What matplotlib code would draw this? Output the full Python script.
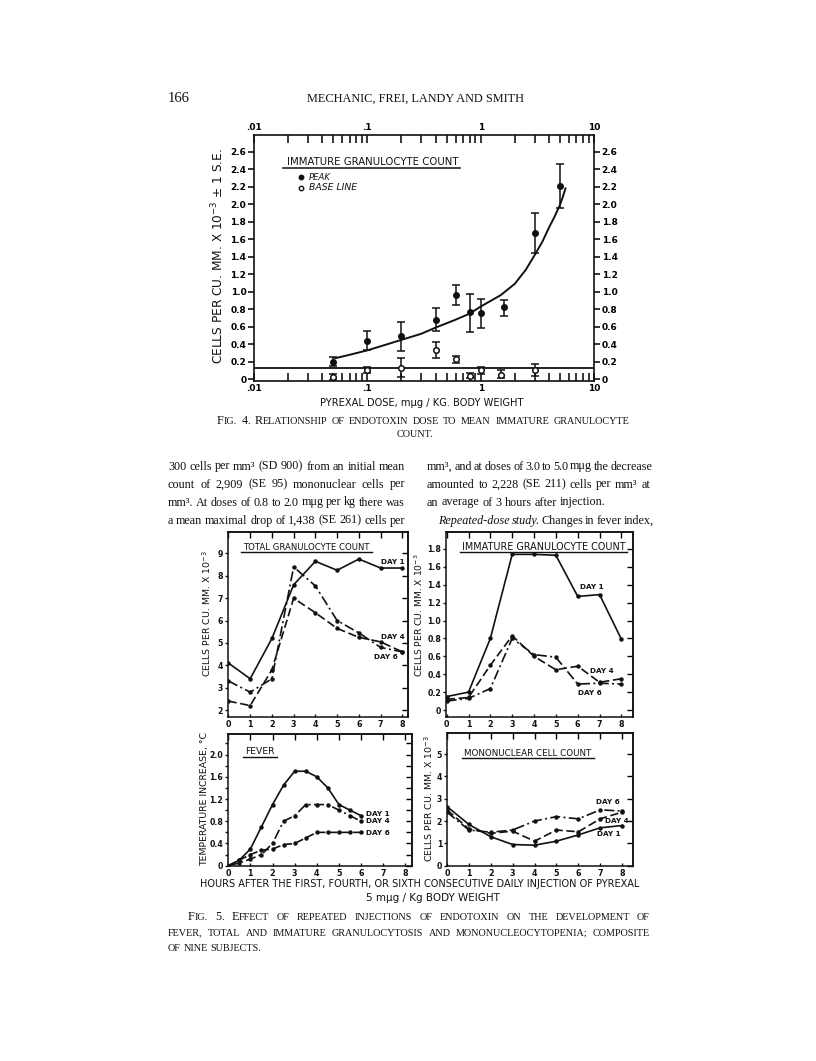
import matplotlib
matplotlib.use("Agg")
import matplotlib.pyplot as plt
from matplotlib.lines import Line2D
from matplotlib.ticker import FixedLocator, NullFormatter

# ---------------- data: Fig. 4 ----------------
peak_dose = [0.05, 0.1, 0.2, 0.4, 0.6, 0.8, 1.0, 1.6, 3.0, 5.0]
peak_mean = [0.20, 0.44, 0.49, 0.68, 0.96, 0.77, 0.76, 0.82, 1.67, 2.21]
peak_low = [0.15, 0.33, 0.32, 0.55, 0.85, 0.54, 0.59, 0.72, 1.44, 1.96]
peak_high = [0.25, 0.55, 0.65, 0.81, 1.08, 0.97, 0.92, 0.91, 1.90, 2.46]

base_dose = [0.05, 0.1, 0.2, 0.4, 0.6, 0.8, 1.0, 1.5, 3.0]
base_mean = [0.02, 0.11, 0.13, 0.33, 0.23, 0.04, 0.11, 0.05, 0.11]
base_low = [-0.01, 0.07, 0.03, 0.24, 0.19, 0.01, 0.06, 0.01, 0.04]
base_high = [0.06, 0.14, 0.24, 0.43, 0.27, 0.07, 0.14, 0.10, 0.17]
baseline_level = 0.13

curve_dose = [0.052, 0.07, 0.1, 0.15, 0.2, 0.3, 0.4, 0.6, 0.8, 1.0, 1.5, 2.0, 2.5, 3.0,
              3.5, 4.0, 4.5, 5.0, 5.3, 5.6]
curve_val = [0.24, 0.28, 0.33, 0.40, 0.45, 0.52, 0.59, 0.68, 0.75, 0.83, 0.96, 1.09, 1.25, 1.42,
             1.57, 1.73, 1.86, 1.99, 2.08, 2.18]

# ---------------- data: Fig. 5 ----------------
hours = [0, 1, 2, 3, 4, 5, 6, 7, 8]
total_day1 = [4.1, 3.4, 5.2, 7.6, 8.65, 8.25, 8.75, 8.35, 8.35]
total_day4 = [2.4, 2.2, 3.8, 7.0, 6.35, 5.65, 5.25, 5.05, 4.6]
total_day6 = [3.3, 2.8, 3.4, 8.4, 7.55, 6.0, 5.45, 4.8, 4.6]

imm_day1 = [0.15, 0.20, 0.80, 1.74, 1.74, 1.73, 1.27, 1.29, 0.79]
imm_day4 = [0.12, 0.14, 0.50, 0.83, 0.60, 0.45, 0.49, 0.31, 0.35]
imm_day6 = [0.10, 0.13, 0.24, 0.80, 0.62, 0.59, 0.29, 0.30, 0.29]

fever_hours = [0, 0.5, 1, 1.5, 2, 2.5, 3, 3.5, 4, 4.5, 5, 5.5, 6]
fever_day1 = [0, 0.10, 0.30, 0.70, 1.10, 1.45, 1.70, 1.70, 1.60, 1.40, 1.10, 1.00, 0.90]
fever_day4 = [0, 0.05, 0.12, 0.20, 0.40, 0.80, 0.90, 1.10, 1.10, 1.10, 1.00, 0.90, 0.80]
fever_day6 = [0, 0.10, 0.20, 0.28, 0.30, 0.38, 0.40, 0.50, 0.60, 0.60, 0.60, 0.60, 0.60]

mono_day1 = [2.65, 1.85, 1.30, 0.95, 0.92, 1.10, 1.38, 1.70, 1.80]
mono_day4 = [2.50, 1.65, 1.45, 1.55, 1.10, 1.60, 1.52, 2.10, 2.40]
mono_day6 = [2.40, 1.60, 1.50, 1.60, 2.00, 2.20, 2.10, 2.50, 2.45]

# ---------------- page setup ----------------
W, H = 816, 1061
fig = plt.figure(figsize=(W / 100, H / 100), dpi=100)
fig.patch.set_facecolor("white")
renderer = fig.canvas.get_renderer()
SANS = "DejaVu Sans"
SERIF = "Liberation Serif"
INK = "#111111"


def rect(l, t, r, b):
    return [l / W, 1 - b / H, (r - l) / W, (b - t) / H]


def fx(x):
    return x / W


def fy(y):
    return 1 - y / H


def width_of(s, size, family, style="normal", weight="normal"):
    t = fig.text(0, 0, s, fontsize=size, family=family, style=style, weight=weight)
    w = t.get_window_extent(renderer).width
    t.remove()
    return w


def fit_text(s, x0, x1, y, family=SANS, base=8, style="normal", weight="normal"):
    t = fig.text(fx(x0), fy(y), s, fontsize=base, family=family, style=style,
                 weight=weight, ha="left", va="center", color=INK)
    w = t.get_window_extent(renderer).width
    t.set_fontsize(base * (x1 - x0) / w)
    return t


def fit_vtext(s, x, y0, y1, family=SANS, base=8):
    t = fig.text(fx(x), fy((y0 + y1) / 2), s, fontsize=base, family=family,
                 rotation=90, ha="center", va="center", color=INK)
    h = t.get_window_extent(renderer).height
    t.set_fontsize(base * (y1 - y0) / h)
    return t


def underline(x0, x1, y, lw=1.0):
    fig.add_artist(Line2D([fx(x0), fx(x1)], [fy(y), fy(y)], transform=fig.transFigure,
                          color=INK, lw=lw))


def smallcaps_pieces(word, big, small):
    pieces = []
    for ch in word:
        size = big if (ch.isupper() or ch.isdigit()) else small
        c = ch.upper()
        if pieces and pieces[-1][1] == size:
            pieces[-1] = (pieces[-1][0] + c, size, "normal")
        else:
            pieces.append((c, size, "normal"))
    return pieces


def draw_words(words, x0, y, x1=None, family=SERIF):
    """words: list of lists of (text, size, style). Justified between x0 and x1 if x1 given."""
    widths = []
    for wd in words:
        widths.append([width_of(p[0], p[1], family, p[2]) for p in wd])
    total = sum(sum(w) for w in widths)
    size = words[0][0][1]
    natural_gap = width_of("a a", size, family) - width_of("aa", size, family)
    if x1 is not None and len(words) > 1:
        gap = (x1 - x0 - total) / (len(words) - 1)
        if gap < natural_gap * 0.6:
            gap = natural_gap * 0.6
    else:
        gap = natural_gap
    x = x0
    for wd, ws in zip(words, widths):
        for p, w in zip(wd, ws):
            fig.text(fx(x), fy(y), p[0], fontsize=p[1], family=family, style=p[2],
                     ha="left", va="baseline", color=INK)
            x += w
        x += gap


def plain_words(s, size, style="normal"):
    return [[(w, size, style)] for w in s.split()]


def sc_words(s, big, small):
    return [smallcaps_pieces(w, big, small) for w in s.split()]


# ---------------- header ----------------
fit_text("166", 168, 190, 98, family=SERIF, base=9)
fit_text("MECHANIC, FREI, LANDY AND SMITH", 307, 523, 99, family=SERIF, base=9)

# ---------------- Fig. 4 ----------------
ax4 = fig.add_axes(rect(254, 135, 594, 381))
ax4.set_xscale("log")
ax4.set_xlim(0.01, 10)
ax4.set_ylim(-0.02, 2.79)
ax4.axhline(baseline_level, color=INK, lw=1.3, zorder=2)
ax4.plot(curve_dose, curve_val, color=INK, lw=1.4, zorder=2)
ax4.errorbar(peak_dose, peak_mean,
             yerr=[[m - l for m, l in zip(peak_mean, peak_low)],
                   [h - m for m, h in zip(peak_mean, peak_high)]],
             fmt="o", color=INK, ms=4, capsize=3, elinewidth=1.1, capthick=1.1, zorder=3)
ax4.errorbar(base_dose, base_mean,
             yerr=[[m - l for m, l in zip(base_mean, base_low)],
                   [h - m for m, h in zip(base_mean, base_high)]],
             fmt="o", color=INK, mfc="white", ms=4, capsize=3, elinewidth=1.1,
             capthick=1.1, mew=1.1, zorder=3)
ax4.xaxis.set_major_locator(FixedLocator([0.01, 0.1, 1, 10]))
ax4.set_xticklabels([".01", ".1", "1", "10"])
ax4.xaxis.set_minor_locator(FixedLocator([k * 10.0 ** e for e in (-2, -1, 0) for k in range(2, 10)]))
ax4.xaxis.set_minor_formatter(NullFormatter())
yt4 = [round(0.2 * i, 1) for i in range(14)]
ax4.set_yticks(yt4)
ax4.set_yticklabels(["0"] + [f"{v:.1f}" for v in yt4[1:]])
ax4.tick_params(axis="x", which="both", direction="in", length=6, width=1.1,
                top=True, bottom=True, labeltop=True, labelbottom=True, labelsize=6.5, pad=2)
ax4.tick_params(axis="y", which="both", direction="out", length=4, width=1.1,
                left=True, right=True, labelleft=True, labelright=True, labelsize=6.5, pad=1.5)
for s in ax4.spines.values():
    s.set_linewidth(1.2)
    s.set_color(INK)
for lab in ax4.get_xticklabels() + ax4.get_yticklabels():
    lab.set_fontweight("bold")

fit_vtext("CELLS PER CU. MM. X 10$^{-3}$ ± 1 S.E.", 218, 148, 365)
fit_text("PYREXAL DOSE, mμg / KG. BODY WEIGHT", 320, 525, 403)
fit_text("IMMATURE GRANULOCYTE COUNT", 287, 458, 162)
underline(283, 460, 168, lw=1.1)
fig.add_artist(Line2D([fx(300.5)], [fy(177)], marker="o", ms=3.2, color=INK,
                      transform=fig.transFigure))
fig.add_artist(Line2D([fx(300.5)], [fy(187.5)], marker="o", ms=3.2, color=INK, mfc="white",
                      mew=1, transform=fig.transFigure))
fit_text("PEAK", 309, 331, 177, style="italic")
fit_text("BASE LINE", 309, 357, 188, style="italic")

# Fig 4 caption
CB, CS = 8.8, 7.3
draw_words(sc_words("Fig. 4. Relationship of endotoxin dose to mean immature granulocyte", CB, CS),
           217, 424, 629)
cw = width_of("COUNT.", CS, SERIF)
draw_words(sc_words("count.", CB, CS), 415 - cw / 2, 437)

# ---------------- body text ----------------
BS = 8.7
left_lines = [
    "300 cells per mm³ (SD 900) from an initial mean",
    "count of 2,909 (SE 95) mononuclear cells per",
    "mm³. At doses of 0.8 to 2.0 mμg per kg there was",
    "a mean maximal drop of 1,438 (SE 261) cells per",
]
baselines = [469.5, 487.5, 505.5, 523.5]
for s, yb in zip(left_lines, baselines):
    draw_words(plain_words(s, BS), 168, yb, 405)
draw_words(plain_words("mm³, and at doses of 3.0 to 5.0 mμg the decrease", BS), 427, baselines[0], 650)
draw_words(plain_words("amounted to 2,228 (SE 211) cells per mm³ at", BS), 427, baselines[1], 650)
draw_words(plain_words("an average of 3 hours after injection.", BS), 427, baselines[2])
draw_words(plain_words("Repeated-dose study.", BS, "italic") +
           plain_words("Changes in fever index,", BS), 438, baselines[3], 650)

# ---------------- Fig. 5 panels ----------------
LS_DASH = (0, (5, 2.2))
LS_DASHDOT = (0, (6, 2, 1.2, 2))


def setup_panel(ax, xlim, ylim, yt, ytl, yminor=None):
    ax.set_xlim(*xlim)
    ax.set_ylim(*ylim)
    ax.set_xticks(hours)
    ax.set_xticklabels([str(h) for h in hours])
    ax.set_yticks(yt)
    ax.set_yticklabels(ytl)
    if yminor is not None:
        ax.set_yticks(yminor, minor=True)
    ax.tick_params(axis="y", which="both", direction="out", length=2.5, width=1,
                   right=False, labelsize=5.6, pad=1.0, colors=INK)
    ax.tick_params(axis="x", which="both", direction="in", length=2.5, width=1,
                   top=False, labelsize=5.8, pad=2.5, colors=INK)
    for lab in ax.get_xticklabels() + ax.get_yticklabels():
        lab.set_fontweight("bold")
    sy = ax.secondary_yaxis("right")
    sy.set_yticks(yt)
    sy.set_yticklabels([""] * len(yt))
    if yminor is not None:
        sy.set_yticks(yminor, minor=True)
    sy.tick_params(which="both", direction="in", length=4, width=1)
    sx = ax.secondary_xaxis("top")
    sx.set_xticks(hours)
    sx.set_xticklabels([""] * len(hours))
    sx.tick_params(direction="in", length=4, width=1)
    for s in list(ax.spines.values()) + list(sy.spines.values()) + list(sx.spines.values()):
        s.set_linewidth(1.1)
        s.set_color(INK)


def series(ax, x, y, ls):
    ax.plot(x, y, color=INK, lw=1.2, ls=ls, marker="o", ms=2.2, zorder=3)


def day_label(ax, x, y, s):
    ax.text(x, y, s, fontsize=5.2, fontweight="bold", family=SANS, color=INK,
            ha="left", va="center")


# Panel A: total granulocyte count
axA = fig.add_axes(rect(228, 532, 408, 717))
setup_panel(axA, (-0.02, 8.26), (1.69, 9.96), list(range(2, 10)), [str(v) for v in range(2, 10)])
series(axA, hours, total_day1, "-")
series(axA, hours, total_day4, LS_DASH)
series(axA, hours, total_day6, LS_DASHDOT)
day_label(axA, 7.0, 8.63, "DAY 1")
day_label(axA, 7.0, 5.25, "DAY 4")
day_label(axA, 6.7, 4.38, "DAY 6")
fit_text("TOTAL GRANULOCYTE COUNT", 243, 370, 547)
underline(241, 372, 552)
fit_vtext("CELLS PER CU. MM. X 10$^{-3}$", 207, 550, 677)

# Panel B: immature granulocyte count
axB = fig.add_axes(rect(446, 532, 633, 717))
ytB = [round(0.2 * i, 1) for i in range(10)]
setup_panel(axB, (-0.03, 8.53), (-0.078, 1.99), ytB, ["0"] + [f"{v:.1f}" for v in ytB[1:]])
series(axB, hours, imm_day1, "-")
series(axB, hours, imm_day4, LS_DASH)
series(axB, hours, imm_day6, LS_DASHDOT)
day_label(axB, 6.1, 1.38, "DAY 1")
day_label(axB, 6.55, 0.44, "DAY 4")
day_label(axB, 6.0, 0.19, "DAY 6")
fit_text("IMMATURE GRANULOCYTE COUNT", 462, 625, 547)
underline(460, 627, 552)
fit_vtext("CELLS PER CU. MM. X 10$^{-3}$", 419, 554, 677)

# Panel C: fever
axC = fig.add_axes(rect(228, 734, 412, 866))
ytC = [0, 0.4, 0.8, 1.2, 1.6, 2.0]
setup_panel(axC, (-0.01, 8.3), (-0.005, 2.37), ytC, ["0", "0.4", "0.8", "1.2", "1.6", "2.0"],
            yminor=[0.2, 0.6, 1.0, 1.4, 1.8, 2.2])
series(axC, fever_hours, fever_day1, "-")
series(axC, fever_hours, fever_day4, LS_DASHDOT)
series(axC, fever_hours, fever_day6, LS_DASH)
day_label(axC, 6.2, 0.93, "DAY 1")
day_label(axC, 6.2, 0.80, "DAY 4")
day_label(axC, 6.2, 0.58, "DAY 6")
fit_text("FEVER", 245, 275, 752)
underline(243, 277, 757)
fit_vtext("TEMPERATURE INCREASE, °C", 205, 731, 866)

# Panel D: mononuclear cell count
axD = fig.add_axes(rect(447, 733, 633, 866))
setup_panel(axD, (0, 8.5), (-0.01, 5.94), list(range(6)), [str(v) for v in range(6)])
series(axD, hours, mono_day1, "-")
series(axD, hours, mono_day4, LS_DASH)
series(axD, hours, mono_day6, LS_DASHDOT)
day_label(axD, 6.85, 1.42, "DAY 1")
day_label(axD, 7.2, 2.02, "DAY 4")
day_label(axD, 6.8, 2.84, "DAY 6")
fit_text("MONONUCLEAR CELL COUNT", 464, 592, 753)
underline(462, 594, 758)
fit_vtext("CELLS PER CU. MM. X 10$^{-3}$", 429, 735, 862)

# shared x label
fit_text("HOURS AFTER THE FIRST, FOURTH, OR SIXTH CONSECUTIVE DAILY INJECTION OF PYREXAL",
         200, 637, 884)
fit_text("5 mμg / Kg BODY WEIGHT", 366, 500, 898)

# Fig 5 caption
draw_words(sc_words("Fig. 5. Effect of repeated injections of endotoxin on the development of", CB, CS),
           188, 920, 650)
draw_words(sc_words("fever, total and immature granulocytosis and mononucleocytopenia; composite", CB, CS),
           168, 935.5, 650)
draw_words(sc_words("of nine subjects.", CB, CS), 168, 951)

fig.savefig("out.png", dpi=100, facecolor="white")
